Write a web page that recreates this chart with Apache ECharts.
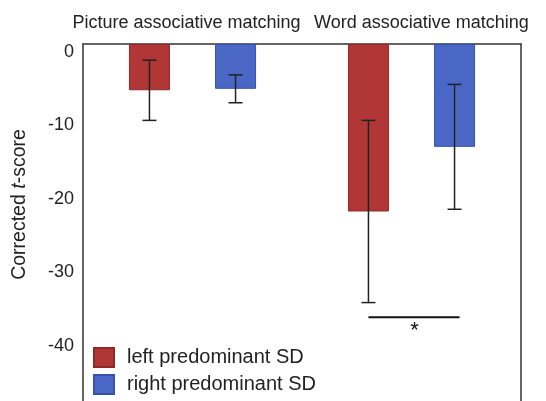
<!DOCTYPE html>
<html><head><meta charset="utf-8">
<script src="https://cdn.jsdelivr.net/npm/echarts@6/dist/echarts.min.js"></script>
<style>html,body{margin:0;padding:0;background:#fff}#c{width:546px;height:401px}</style>
</head><body><div id="c"></div>
<script>
var categories = ['Picture associative matching', 'Word associative matching'];
var seriesNames = ['left predominant SD', 'right predominant SD'];
var leftMean = [-6.3, -22.8];
var leftSD = [4.1, 12.4];
var rightMean = [-6.1, -14.0];
var rightSD = [1.9, 8.5];
var yTicks = [0, -10, -20, -30, -40];
var yMin = -48.6, yMax = 0;
var sigValue = -37.2;
var sigLabel = '*';

var BAR_W = 41, GAP = 1.1;
var offs = (BAR_W + BAR_W * GAP) / 2;

function errRender(sign) {
  return function (params, api) {
    var c = api.coord([api.value(0), api.value(1)]);
    var x = c[0] + sign * offs;
    var top = api.coord([api.value(0), api.value(1) + api.value(2)])[1];
    var bot = api.coord([api.value(0), api.value(1) - api.value(2)])[1];
    var cap = 7;
    var st = {stroke: '#222', lineWidth: 1.5};
    return {type: 'group', children: [
      {type: 'line', shape: {x1: x, y1: top, x2: x, y2: bot}, style: st},
      {type: 'line', shape: {x1: x - cap, y1: top, x2: x + cap, y2: top}, style: st},
      {type: 'line', shape: {x1: x - cap, y1: bot, x2: x + cap, y2: bot}, style: st}
    ]};
  };
}

var lineStyle = {color: '#333', width: 1.5};
var chart = echarts.init(document.getElementById('c'));
chart.setOption({
  animation: false,
  backgroundColor: '#fff',
  textStyle: {fontFamily: 'Liberation Sans, Arial, sans-serif'},
  grid: {left: 83, right: 25, top: 44, bottom: 0},
  legend: {
    data: seriesNames, orient: 'vertical', left: 93, top: 347, padding: 0, height: 60,
    itemWidth: 20, itemHeight: 19, itemGap: 6,
    icon: 'rect', textStyle: {fontSize: 20, color: '#222', padding: [0, 0, 0, 8]}
  },
  xAxis: {
    type: 'category', position: 'top',
    data: [
      {value: categories[0], textStyle: {padding: [0, 12, 0, 0]}},
      {value: categories[1], textStyle: {padding: [0, 0, 0, 20]}}
    ],
    axisLine: {show: true, lineStyle: lineStyle}, axisTick: {show: false},
    axisLabel: {interval: 0, fontSize: 18, color: '#222', margin: 12}
  },
  yAxis: [{
    type: 'value', min: yMin, max: yMax,
    axisLine: {show: true, lineStyle: lineStyle}, axisTick: {show: false}, splitLine: {show: false},
    axisLabel: {fontSize: 18, color: '#222', margin: 9, customValues: yTicks, verticalAlign: 'top', lineHeight: 16},
    name: '{a|Corrected }{b|t}{a|-score}', nameLocation: 'middle', nameGap: 53, nameRotate: 90,
    nameTextStyle: {padding: [0, 0, 0, 36], rich: {a: {fontSize: 19.5, color: '#222'}, b: {fontSize: 19.5, color: '#222', fontStyle: 'italic'}}}
  }, {
    type: 'value', position: 'right', min: yMin, max: yMax,
    axisLine: {show: true, lineStyle: lineStyle}, axisTick: {show: false}, splitLine: {show: false},
    axisLabel: {show: false}
  }],
  series: [
    {name: seriesNames[0], type: 'bar', data: leftMean, barWidth: BAR_W, barGap: (GAP * 100) + '%',
      itemStyle: {color: '#b13636', borderColor: '#8f2929', borderWidth: 1}},
    {name: seriesNames[1], type: 'bar', data: rightMean, barWidth: BAR_W,
      itemStyle: {color: '#4a67c6', borderColor: '#3652ad', borderWidth: 1}},
    {type: 'custom', z: 5, renderItem: errRender(-1),
      data: leftMean.map(function (m, i) { return [i, m, leftSD[i]]; })},
    {type: 'custom', z: 5, renderItem: errRender(1),
      data: rightMean.map(function (m, i) { return [i, m, rightSD[i]]; })},
    {type: 'custom', z: 5, data: [[1, sigValue]], renderItem: function (params, api) {
      var c = api.coord([api.value(0), api.value(1)]);
      return {type: 'group', children: [
        {type: 'line', shape: {x1: c[0] - offs, y1: c[1], x2: c[0] + offs + 5, y2: c[1]}, style: {stroke: '#111', lineWidth: 2}},
        {type: 'text', style: {text: sigLabel, x: c[0] + 3, y: c[1] + 3, textAlign: 'center', textVerticalAlign: 'top', fontSize: 22, fill: '#111'}}
      ]};
    }}
  ]
});
</script></body></html>
